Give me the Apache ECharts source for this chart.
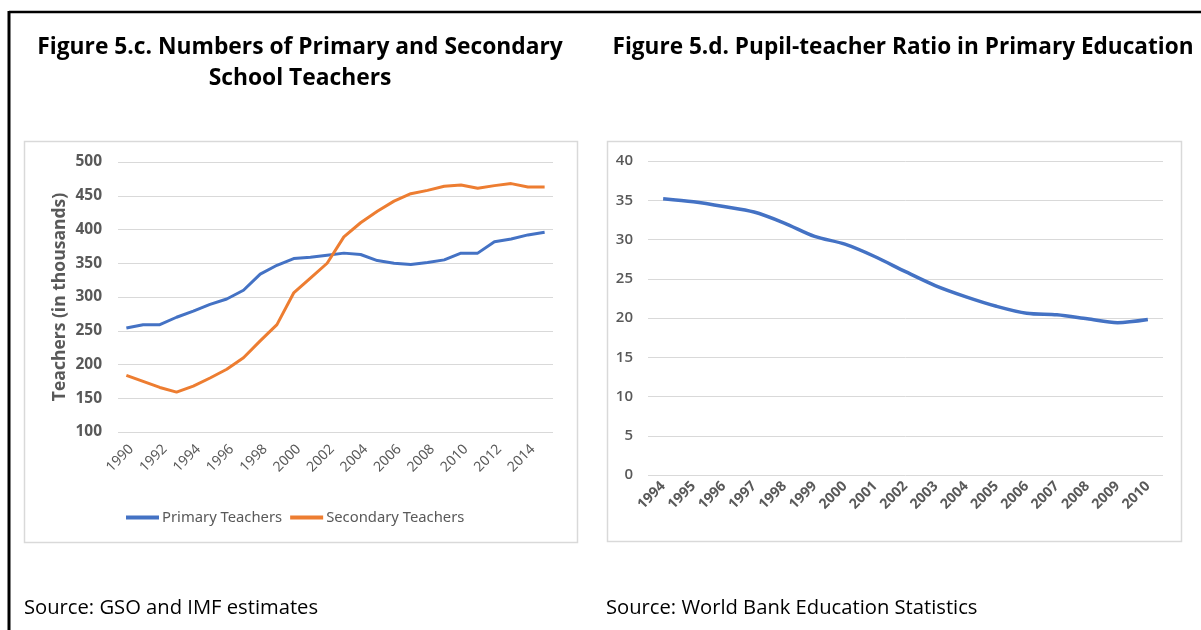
<!DOCTYPE html>
<html>
<head>
<meta charset="utf-8">
<script src="https://cdn.jsdelivr.net/npm/echarts@6/dist/echarts.min.js"></script>
<style>
  html, body { margin: 0; padding: 0; background: #fff; }
  #chart { width: 1201px; height: 630px; }
</style>
</head>
<body>
<div id="chart"></div>
<script>
// Figure 5.c: teachers by level, 1990-2015 (thousands)
const teacherYears = ['1990','1991','1992','1993','1994','1995','1996','1997','1998','1999','2000','2001','2002','2003','2004','2005','2006','2007','2008','2009','2010','2011','2012','2013','2014','2015'];
const primaryTeachers = [254, 259, 259, 270, 279, 289, 297, 310, 334, 347, 357, 359, 362, 365, 363, 354, 350, 348, 351, 355, 365, 365, 382, 386, 392, 396];
const secondaryTeachers = [184, 175, 166, 159, 168, 180, 193, 210, 235, 259, 306, 328, 350, 389, 410, 427, 442, 453, 458, 464, 466, 461, 465, 468, 463, 463];
const teacherTicks = { min: 100, max: 500, step: 50 };

// Figure 5.d: pupil-teacher ratio in primary education
const ratioYears = ['1994','1995','1996','1997','1998','1999','2000','2001','2002','2003','2004','2005','2006','2007','2008','2009','2010'];
const pupilTeacherRatio = [35.2, 34.8, 34.2, 33.5, 32.1, 30.4, 29.4, 27.8, 25.9, 24.1, 22.7, 21.5, 20.6, 20.4, 19.9, 19.4, 19.8];
const ratioTicks = { min: 0, max: 40, step: 5 };

const BLUE = '#4472C4';
const ORANGE = '#ED7D31';
const GRID = '#D9D9D9';
const AXIS_TEXT = '#595959';
const TITLE_FONT = '"Open Sans", "Noto Sans", sans-serif';
const CHART_FONT = '"Noto Sans", "Open Sans", sans-serif';

const chart = echarts.init(document.getElementById('chart'), null, { renderer: 'canvas' });

chart.setOption({
  animation: false,
  backgroundColor: '#ffffff',
  textStyle: { fontFamily: CHART_FONT },
  title: [
    {
      text: 'Figure 5.c. Numbers of Primary and Secondary\nSchool Teachers',
      left: 300, top: 32, textAlign: 'center', padding: 0,
      textStyle: { fontFamily: TITLE_FONT, fontSize: 22.8, fontWeight: 'bold', color: '#000', lineHeight: 31 }
    },
    {
      text: 'Figure 5.d. Pupil-teacher Ratio in Primary Education',
      left: 903, top: 32, textAlign: 'center', padding: 0,
      textStyle: { fontFamily: TITLE_FONT, fontSize: 22.6, fontWeight: 'bold', color: '#000', lineHeight: 31 }
    },
    {
      text: 'Source: GSO and IMF estimates',
      left: 24, top: 596, padding: 0,
      textStyle: { fontFamily: TITLE_FONT, fontSize: 20.2, fontWeight: 'normal', color: '#000', lineHeight: 24 }
    },
    {
      text: 'Source: World Bank Education Statistics',
      left: 606, top: 596, padding: 0,
      textStyle: { fontFamily: TITLE_FONT, fontSize: 20.2, fontWeight: 'normal', color: '#000', lineHeight: 24 }
    }
  ],
  graphic: [
    // page frame
    { type: 'line', shape: { x1: 9, y1: 12, x2: 1201, y2: 12 }, style: { stroke: '#000', lineWidth: 2.5 }, silent: true },
    { type: 'line', shape: { x1: 9, y1: 11, x2: 9, y2: 630 }, style: { stroke: '#000', lineWidth: 3 }, silent: true },
    // chart panels
    { type: 'rect', shape: { x: 24.5, y: 141.5, width: 553, height: 401 }, style: { fill: 'none', stroke: GRID, lineWidth: 1.5 }, silent: true, z: -1 },
    { type: 'rect', shape: { x: 607.5, y: 141.5, width: 574, height: 400 }, style: { fill: 'none', stroke: GRID, lineWidth: 1.5 }, silent: true, z: -1 }
  ],
  legend: {
    left: 126, top: 510, padding: 0,
    icon: 'rect', itemWidth: 33, itemHeight: 4, itemGap: 8,
    textStyle: { fontFamily: CHART_FONT, fontSize: 14.8, color: AXIS_TEXT, padding: [0, 0, 0, -2] },
    data: ['Primary Teachers', 'Secondary Teachers']
  },
  grid: [
    { left: 118, top: 162, width: 435, height: 270, containLabel: false },
    { left: 648, top: 161, width: 515, height: 314, containLabel: false }
  ],
  xAxis: [
    {
      type: 'category', gridIndex: 0, data: teacherYears, boundaryGap: true,
      axisLine: { show: false }, axisTick: { show: false },
      axisLabel: { interval: 1, rotate: 45, margin: 10, verticalAlign: 'top', fontSize: 14, color: AXIS_TEXT, fontFamily: CHART_FONT }
    },
    {
      type: 'category', gridIndex: 1, data: ratioYears, boundaryGap: true,
      axisLine: { show: false }, axisTick: { show: false },
      axisLabel: { interval: 0, rotate: 45, margin: 9, fontSize: 14.2, fontWeight: 'bold', color: AXIS_TEXT, fontFamily: CHART_FONT }
    }
  ],
  yAxis: [
    {
      type: 'value', gridIndex: 0,
      min: teacherTicks.min, max: teacherTicks.max, interval: teacherTicks.step,
      name: 'Teachers (in thousands)', nameLocation: 'middle', nameGap: 49,
      nameTextStyle: { fontFamily: TITLE_FONT, fontSize: 17.5, fontWeight: 'bold', color: AXIS_TEXT },
      axisLine: { show: false }, axisTick: { show: false },
      axisLabel: { margin: 16, fontSize: 15.5, fontWeight: 'bold', color: AXIS_TEXT, fontFamily: TITLE_FONT },
      splitLine: { lineStyle: { color: GRID, width: 1 } }
    },
    {
      type: 'value', gridIndex: 1,
      min: ratioTicks.min, max: ratioTicks.max, interval: ratioTicks.step,
      axisLine: { show: false }, axisTick: { show: false },
      axisLabel: { margin: 15, fontSize: 15, fontWeight: 600, color: AXIS_TEXT, fontFamily: TITLE_FONT },
      splitLine: { lineStyle: { color: GRID, width: 1 } }
    }
  ],
  series: [
    {
      name: 'Primary Teachers', type: 'line', xAxisIndex: 0, yAxisIndex: 0,
      data: primaryTeachers, symbol: 'none', color: BLUE,
      lineStyle: { color: BLUE, width: 3 }
    },
    {
      name: 'Secondary Teachers', type: 'line', xAxisIndex: 0, yAxisIndex: 0,
      data: secondaryTeachers, symbol: 'none', color: ORANGE,
      lineStyle: { color: ORANGE, width: 3 }
    },
    {
      name: 'Pupil-teacher ratio', type: 'line', xAxisIndex: 1, yAxisIndex: 1,
      data: pupilTeacherRatio, symbol: 'none', smooth: 0.3, color: BLUE,
      lineStyle: { color: BLUE, width: 3.5 }
    }
  ]
});
</script>
</body>
</html>
